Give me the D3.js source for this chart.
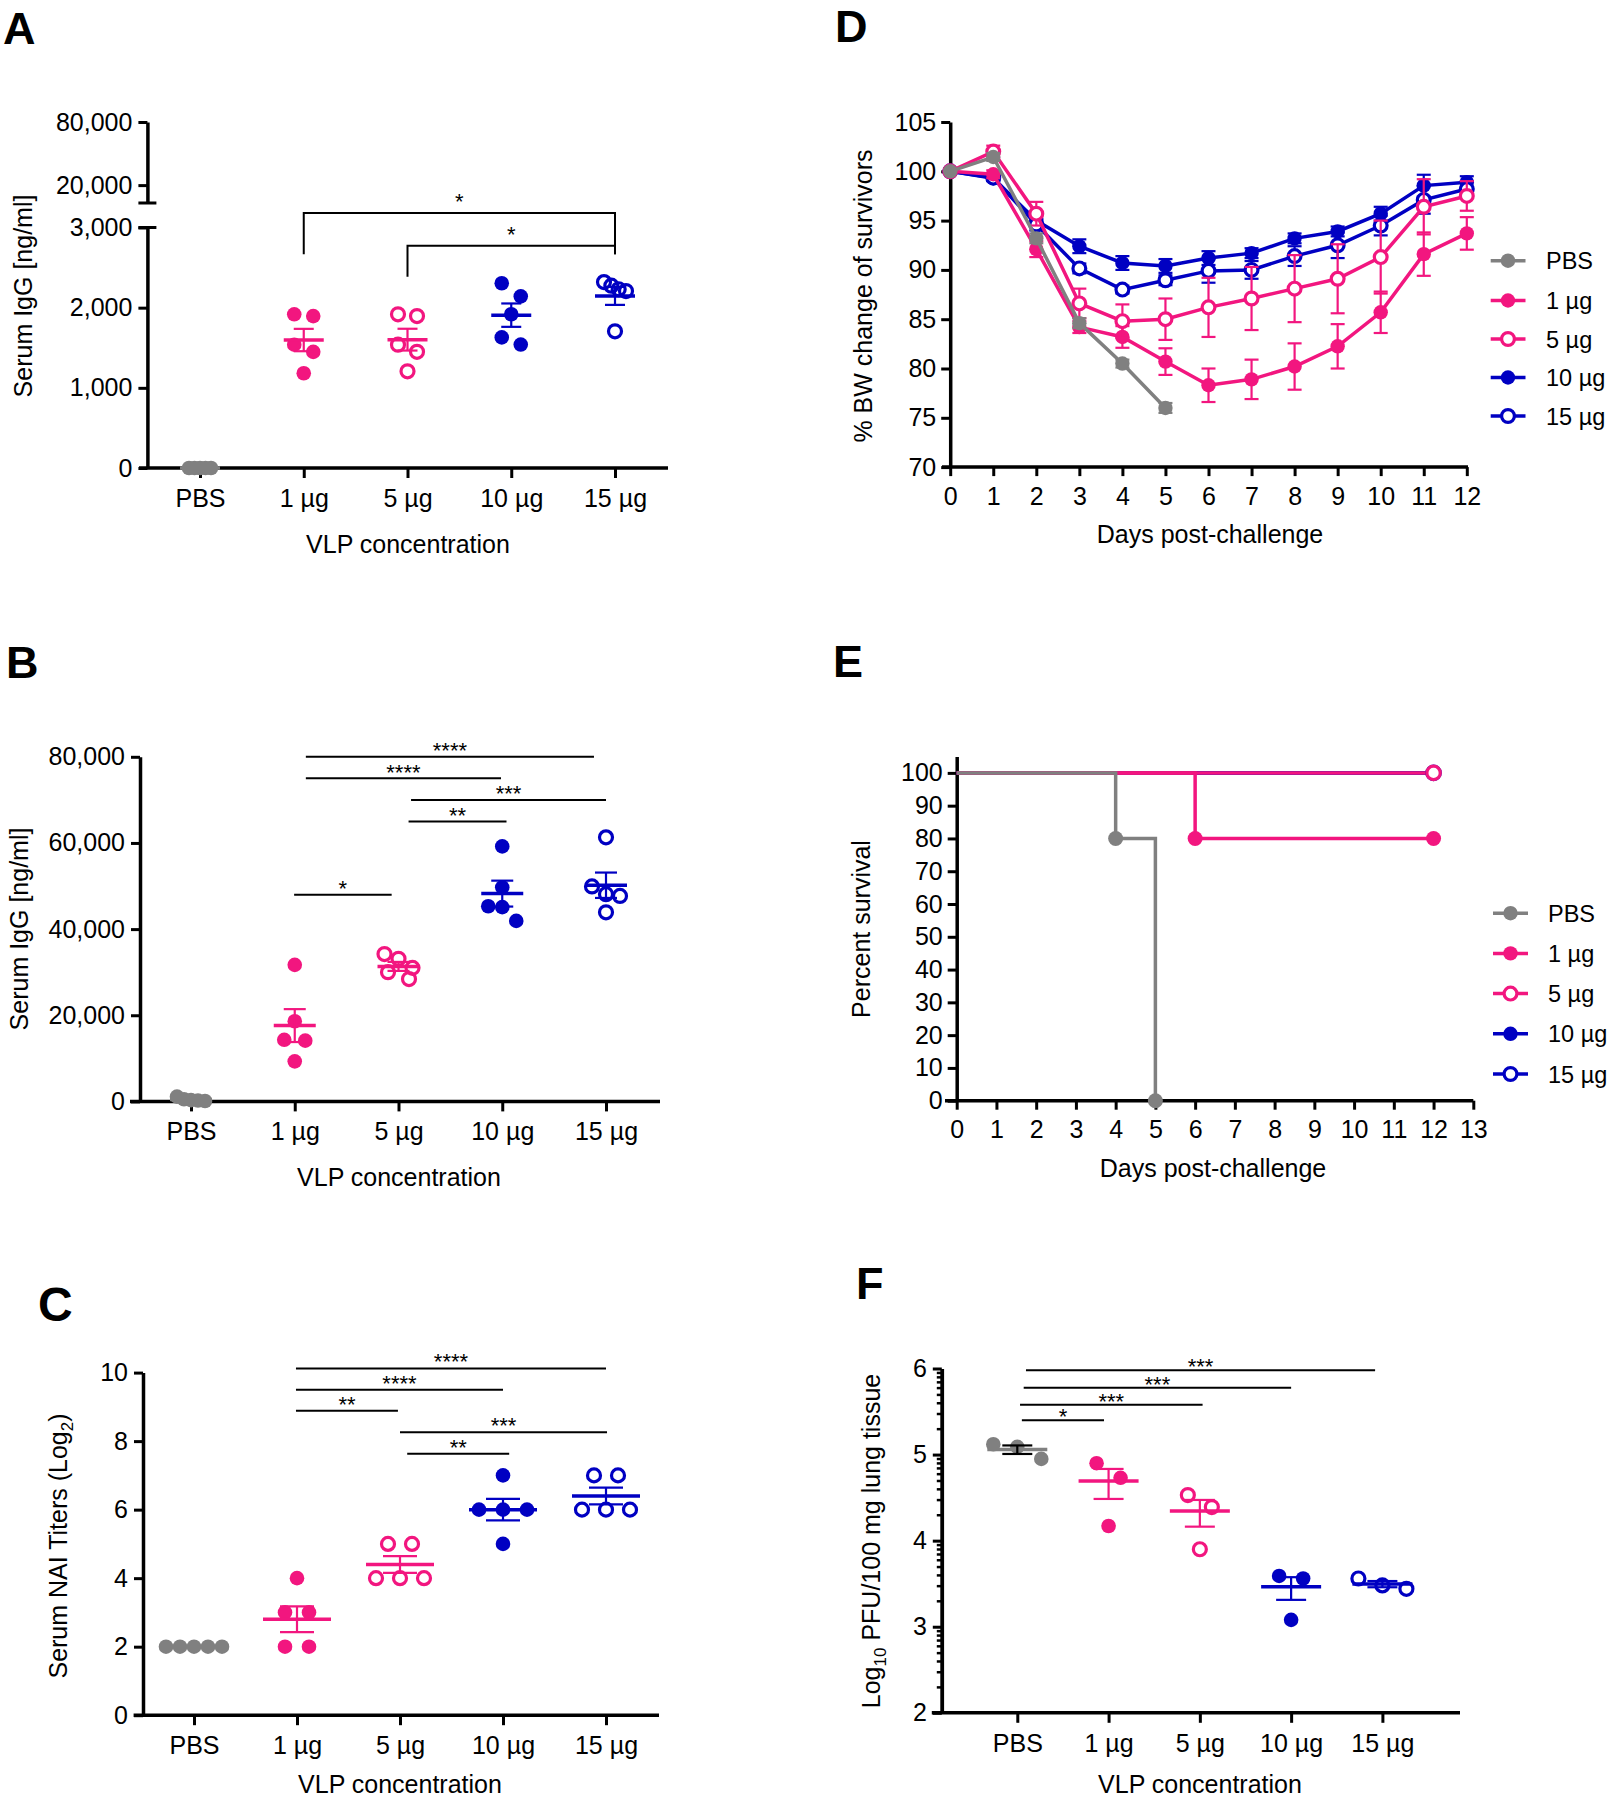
<!DOCTYPE html>
<html><head><meta charset="utf-8">
<script src="https://cdn.jsdelivr.net/npm/d3@7"></script>
<style>body{margin:0;background:#fff}svg{display:block}</style>
</head><body>
<script>
// ---------------- DATA ----------------
const groups = ["PBS", "1 µg", "5 µg", "10 µg", "15 µg"];

// Panel A: Serum IgG [ng/ml] (per group, individual mice)
const igG_A = [
  [0, 0, 0, 0, 0],
  [1917, 1895, 1538, 1449, 1182],
  [1917, 1895, 1538, 1449, 1206],
  [2305, 2141, 1918, 1629, 1540],
  [2319, 2274, 2230, 2207, 1705]
];
const ticksA_low = [0, 1000, 2000, 3000];
const ticksA_high = [20000, 80000];
const sigA = [
  {from: 1, to: 4, level: 3182, legFrom: 2666, legTo: 2666, label: "*", labelLevel: 3388},
  {from: 2, to: 4, level: 2773, legFrom: 2385, legTo: 2666, label: "*", labelLevel: 2974}
];

// Panel B: Serum IgG [ng/ml]
const igG_B = [
  [1100, 500, 300, 200, 100],
  [31700, 18600, 14100, 14300, 9300],
  [34200, 33100, 31000, 30000, 28400],
  [59200, 49700, 45300, 45100, 41900],
  [61300, 49900, 48100, 47700, 43900]
];
const ticksB = [0, 20000, 40000, 60000, 80000];
const sigB = [
  {from: 1.107, to: 3.884, level: 80000, label: "****"},
  {from: 1.107, to: 2.988, level: 75000, label: "****"},
  {from: 2.121, to: 4.0, level: 70000, label: "***"},
  {from: 2.097, to: 3.041, level: 65000, label: "**"},
  {from: 0.994, to: 1.934, level: 48000, label: "*"}
];

// Panel C: Serum NAI titers (log2)
const nai_C = [
  [2, 2, 2, 2, 2],
  [4, 3, 3, 2, 2],
  [5, 5, 4, 4, 4],
  [7, 6, 6, 6, 5],
  [7, 7, 6, 6, 6]
];
const ticksC = [0, 2, 4, 6, 8, 10];
const sigC = [
  {from: 0.99, to: 4.0, level: 10.12, label: "****"},
  {from: 0.99, to: 3.0, level: 9.5, label: "****"},
  {from: 0.99, to: 1.98, level: 8.885, label: "**"},
  {from: 2.0, to: 4.01, level: 8.26, label: "***"},
  {from: 2.07, to: 3.06, level: 7.63, label: "**"}
];

// Panel D: % body weight of survivors (mean, SEM)
const bwDays = [0, 1, 2, 3, 4, 5, 6, 7, 8, 9, 10, 11, 12];
const ticksD = [70, 75, 80, 85, 90, 95, 100, 105];
const bwMean_PBS = [100, 101.45, 93.2, 84.6, 80.5, 76.0];
const bwSem_PBS  = [0, 0.4, 0.5, 0.5, 0.4, 0.5];
const bwMean_1 = [100, 99.7, 92.1, 84.2, 83.2, 80.7, 78.3, 78.9, 80.2, 82.25, 85.7, 91.6, 93.7];
const bwSem_1  = [0, 0.4, 0.8, 0.6, 1.1, 1.35, 1.7, 2.0, 2.35, 2.25, 2.1, 2.2, 1.65];
const bwMean_5 = [100, 102.0, 95.7, 86.6, 84.8, 85.0, 86.2, 87.1, 88.1, 89.1, 91.3, 96.4, 97.5];
const bwSem_5  = [0, 0.6, 1.2, 1.5, 1.7, 2.1, 3.0, 3.2, 3.4, 3.5, 3.7, 2.8, 1.5];
const bwMean_10 = [100, 99.3, 95.0, 92.4, 90.7, 90.4, 91.2, 91.7, 93.2, 93.9, 95.7, 98.55, 98.9];
const bwSem_10  = [0, 0.3, 0.6, 0.7, 0.7, 0.7, 0.7, 0.5, 0.5, 0.5, 0.7, 1.1, 0.6];
const bwMean_15 = [100, 99.35, 94.6, 90.15, 88.0, 88.95, 89.9, 90.0, 91.4, 92.5, 94.5, 97.1, 98.2];
const bwSem_15  = [0, 0.3, 0.6, 0.5, 0.4, 0.5, 1.2, 0.9, 1.0, 1.3, 1.0, 1.4, 0.8];

// Panel E: Percent survival (Kaplan-Meier steps)
const survDays_PBS = [0, 4, 5];   const survPct_PBS = [100, 80, 0];
const survDays_1   = [0, 6, 12];  const survPct_1   = [100, 80, 80];
const survDays_5   = [0, 12];     const survPct_5   = [100, 100];
const survDays_10  = [0, 12];     const survPct_10  = [100, 100];
const survDays_15  = [0, 12];     const survPct_15  = [100, 100];
const ticksE_y = [0, 10, 20, 30, 40, 50, 60, 70, 80, 90, 100];
const ticksE_x = [0, 1, 2, 3, 4, 5, 6, 7, 8, 9, 10, 11, 12, 13];

// Panel F: log10 PFU / 100 mg lung tissue
const pfu_F = [
  [5.12, 5.09, 4.95],
  [4.90, 4.73, 4.17],
  [4.53, 4.39, 3.90],
  [3.59, 3.56, 3.08],
  [3.56, 3.48, 3.44]
];
const ticksF = [2, 3, 4, 5, 6];
const sigF = [
  {from: 0.095, to: 3.92, level: 5.979, label: "***"},
  {from: 0.07, to: 3.0, level: 5.775, label: "***"},
  {from: 0.03, to: 2.03, level: 5.58, label: "***"},
  {from: 0.05, to: 0.95, level: 5.40, label: "*"}
];

// ---------------- STYLE ----------------
const FONT = "'Liberation Sans', Arial, Helvetica, sans-serif";
const GREY = "#808080", PINK = "#f2167f", BLUE = "#0000c2";
const gColor = [GREY, PINK, PINK, BLUE, BLUE];
const gOpen = [false, false, true, false, true];

const svg = d3.select("body").append("svg").attr("width", 1609).attr("height", 1800);
svg.append("rect").attr("width", 1609).attr("height", 1800).attr("fill", "#fff");

function styleAxis(sel) {
  sel.select(".domain").attr("stroke", "#000").attr("stroke-width", 3.5);
  sel.selectAll(".tick line").attr("stroke", "#000").attr("stroke-width", 3);
  sel.selectAll(".tick text").attr("fill", "#000").attr("font-size", 25).attr("font-family", FONT);
}
function hline(g, x1, x2, y, w) {
  g.append("line").attr("x1", x1).attr("x2", x2).attr("y1", y).attr("y2", y)
    .attr("stroke", "#000").attr("stroke-width", w || 3.5);
}
function text(g, x, y, s, opt) {
  opt = opt || {};
  return g.append("text").attr("x", x).attr("y", y).text(s)
    .attr("font-family", FONT).attr("font-size", opt.fs || 25)
    .attr("font-weight", opt.bold ? "bold" : "normal")
    .attr("text-anchor", opt.anchor || "middle").attr("fill", "#000");
}
function yTitle(g, x, y, parts) {
  const t = g.append("text").attr("transform", `translate(${x},${y}) rotate(-90)`)
    .attr("text-anchor", "middle").attr("font-family", FONT).attr("font-size", 25).attr("fill", "#000");
  parts.forEach(p => {
    const ts = t.append("tspan").text(p.t);
    if (p.sub) ts.attr("font-size", 17).attr("dy", 6);
    if (p.after) ts.attr("dy", -6);
  });
}
function marker(g, cx, cy, gi, r, whiteFill) {
  const open = gOpen[gi];
  g.append("circle").attr("cx", cx).attr("cy", cy).attr("r", open ? r - 0.8 : r)
    .attr("fill", open ? (whiteFill ? "#fff" : "none") : gColor[gi])
    .attr("stroke", gColor[gi]).attr("stroke-width", open ? 3.2 : 0);
}
// GraphPad-like horizontal spreading of overlapping points
function dodge(vals, y, spacing, maxHalf, thr) {
  const idx = vals.map((v, i) => i).sort((a, b) => vals[b] - vals[a]);
  const offs = new Array(vals.length).fill(0);
  let row = [];
  const flush = () => {
    const n = row.length; let s = spacing;
    if (n > 1 && (n - 1) * s / 2 > maxHalf) s = 2 * maxHalf / (n - 1);
    row.forEach((k, j) => offs[k] = (j - (n - 1) / 2) * s);
    row = [];
  };
  idx.forEach(k => {
    if (row.length && Math.abs(y(vals[k]) - y(vals[row[0]])) >= thr) flush();
    row.push(k);
  });
  flush();
  return offs;
}
function scatter(g, data, x, y, o) {
  data.forEach((vals, gi) => {
    const cx = x(groups[gi]);
    const offs = dodge(vals, y, o.spacing, o.maxHalf, 15);
    vals.forEach((v, k) => marker(g, cx + offs[k], y(v), gi, 7.3, false));
    let m, lo, hi;
    if (o.logMean) {
      const lin = vals.map(v => Math.pow(10, v));
      const mm = d3.mean(lin), se = d3.deviation(lin) / Math.sqrt(lin.length);
      m = Math.log10(mm); hi = Math.log10(mm + se); lo = Math.log10(mm - se);
    } else {
      m = d3.mean(vals);
      const se = (d3.deviation(vals) || 0) / Math.sqrt(vals.length);
      hi = m + se; lo = m - se;
    }
    const col = gColor[gi];
    g.append("line").attr("x1", cx - o.meanHalf).attr("x2", cx + o.meanHalf)
      .attr("y1", y(m)).attr("y2", y(m)).attr("stroke", col).attr("stroke-width", 3.5);
    if (hi - lo > 1e-9) {
      const sc = (o.semColor && o.semColor[gi]) || col;
      g.append("line").attr("x1", cx).attr("x2", cx).attr("y1", y(lo)).attr("y2", y(hi))
        .attr("stroke", sc).attr("stroke-width", 2.2);
      [lo, hi].forEach(v => g.append("line").attr("x1", cx - o.capHalf).attr("x2", cx + o.capHalf)
        .attr("y1", y(v)).attr("y2", y(v)).attr("stroke", sc).attr("stroke-width", 2.2));
    }
  });
}
function sigLines(g, xi, y, list, offset) {
  list.forEach(s => {
    const yy = y(s.level);
    g.append("line").attr("x1", xi(s.from)).attr("x2", xi(s.to)).attr("y1", yy).attr("y2", yy)
      .attr("stroke", "#000").attr("stroke-width", 2);
    text(g, (xi(s.from) + xi(s.to)) / 2, yy - offset + 12.5, s.label, {fs: 22});
  });
}
function catAxis(g, x, yAxis, x1, x2) {
  hline(g, x1, x2, yAxis);
  g.append("g").attr("transform", `translate(0,${yAxis})`)
    .call(d3.axisBottom(x).tickSize(10).tickSizeOuter(0).tickPadding(11))
    .call(styleAxis).call(a => a.select(".domain").remove());
}
function legend(g, ly, lx0, lx1, mx, tx) {
  groups.forEach((name, gi) => {
    g.append("line").attr("x1", lx0).attr("x2", lx1).attr("y1", ly[gi]).attr("y2", ly[gi])
      .attr("stroke", gColor[gi]).attr("stroke-width", 3.5);
    marker(g, mx, ly[gi], gi, 7.2, true);
    text(g, tx, ly[gi] + 8.5, name, {anchor: "start", fs: 23.5});
  });
}

// ---------------- PANEL A ----------------
{
  const g = svg.append("g");
  const x = d3.scalePoint().domain(groups).range([200, 615]);
  const xi = d3.scaleLinear().domain([0, 4]).range([200, 615]);
  const yLow = d3.scaleLinear().domain([0, 3000]).range([468, 227.5]);
  const yHigh = d3.scaleLinear().domain([3000, 80000]).range([203, 122]);
  const ax = 147.4;
  g.append("g").attr("transform", `translate(${ax},0)`)
    .call(d3.axisLeft(yLow).tickValues(ticksA_low).tickSize(9).tickSizeOuter(0).tickPadding(6).tickFormat(d3.format(",")))
    .call(styleAxis);
  g.append("g").attr("transform", `translate(${ax},0)`)
    .call(d3.axisLeft(yHigh).tickValues(ticksA_high).tickSize(9).tickSizeOuter(0).tickPadding(6).tickFormat(d3.format(",")))
    .call(styleAxis);
  [yHigh(3000), yLow(3000)].forEach(v => hline(g, ax - 9, ax + 9, v, 3));
  catAxis(g, x, 468, 139, 668);
  scatter(g, igG_A, x, yLow, {spacing: 19, maxHalf: 11, meanHalf: 20, capHalf: 10});
  sigA.forEach(s => {
    g.append("path").attr("d", `M${xi(s.from)},${yLow(s.legFrom)}V${yLow(s.level)}H${xi(s.to)}V${yLow(s.legTo)}`)
      .attr("fill", "none").attr("stroke", "#000").attr("stroke-width", 2);
    text(g, (xi(s.from) + xi(s.to)) / 2, yLow(s.labelLevel) + 12.5, s.label, {fs: 22});
  });
  yTitle(g, 32, 296, [{t: "Serum  IgG [ng/ml]"}]);
  text(g, 408, 553, "VLP concentration");
  text(g, 3, 44, "A", {fs: 45, bold: true, anchor: "start"});
}

// ---------------- PANEL B ----------------
{
  const g = svg.append("g");
  const x = d3.scalePoint().domain(groups).range([191, 606]);
  const xi = d3.scaleLinear().domain([0, 4]).range([191, 606]);
  const y = d3.scaleLinear().domain([0, 80000]).range([1101.4, 756.8]);
  g.append("g").attr("transform", "translate(140,0)")
    .call(d3.axisLeft(y).tickValues(ticksB).tickSize(9).tickSizeOuter(0).tickPadding(6).tickFormat(d3.format(",")))
    .call(styleAxis);
  catAxis(g, x, 1101.4, 130, 660);
  scatter(g, igG_B, x, y, {spacing: 21, maxHalf: 14, meanHalf: 21, capHalf: 11});
  sigLines(g, xi, y, sigB, 11);
  yTitle(g, 28, 929, [{t: "Serum IgG [ng/ml]"}]);
  text(g, 399, 1186, "VLP concentration");
  text(g, 6, 678, "B", {fs: 45, bold: true, anchor: "start"});
}

// ---------------- PANEL C ----------------
{
  const g = svg.append("g");
  const x = d3.scalePoint().domain(groups).range([194, 606]);
  const xi = d3.scaleLinear().domain([0, 4]).range([194, 606]);
  const y = d3.scaleLinear().domain([0, 10]).range([1715.2, 1372.6]);
  g.append("g").attr("transform", "translate(143,0)")
    .call(d3.axisLeft(y).tickValues(ticksC).tickSize(9).tickSizeOuter(0).tickPadding(6))
    .call(styleAxis);
  catAxis(g, x, 1715.2, 133.6, 659);
  scatter(g, nai_C, x, y, {spacing: 24, maxHalf: 28, meanHalf: 34, capHalf: 17});
  sigLines(g, xi, y, sigC, 11.5);
  yTitle(g, 67, 1546, [{t: "Serum NAI Titers (Log"}, {t: "2", sub: true}, {t: ")", after: true}]);
  text(g, 400, 1793, "VLP concentration");
  text(g, 38, 1321, "C", {fs: 48, bold: true, anchor: "start"});
}

// ---------------- PANEL D ----------------
{
  const g = svg.append("g");
  const x = d3.scaleLinear().domain([0, 12]).range([950.2, 1466.8]);
  const y = d3.scaleLinear().domain([70, 105]).range([467.1, 122]);
  g.append("g").attr("transform", "translate(950.2,0)")
    .call(d3.axisLeft(y).tickValues(ticksD).tickSize(9).tickSizeOuter(0).tickPadding(5))
    .call(styleAxis);
  hline(g, 942, 1468, 467.1);
  g.append("g").attr("transform", "translate(0,467.1)")
    .call(d3.axisBottom(x).tickValues(bwDays).tickSize(9).tickSizeOuter(0).tickPadding(11))
    .call(styleAxis).call(a => a.select(".domain").remove());
  const series = [
    {gi: 3, m: bwMean_10, s: bwSem_10},
    {gi: 4, m: bwMean_15, s: bwSem_15},
    {gi: 1, m: bwMean_1, s: bwSem_1},
    {gi: 2, m: bwMean_5, s: bwSem_5},
    {gi: 0, m: bwMean_PBS, s: bwSem_PBS}
  ];
  series.forEach(sr => {
    const col = gColor[sr.gi];
    const pts = sr.m.map((v, i) => ({d: bwDays[i], v, s: sr.s[i]}));
    pts.forEach(p => {
      if (p.s <= 0) return;
      const cx = x(p.d);
      g.append("line").attr("x1", cx).attr("x2", cx).attr("y1", y(p.v - p.s)).attr("y2", y(p.v + p.s))
        .attr("stroke", col).attr("stroke-width", 2.2);
      [p.v - p.s, p.v + p.s].forEach(v => g.append("line").attr("x1", cx - 7).attr("x2", cx + 7)
        .attr("y1", y(v)).attr("y2", y(v)).attr("stroke", col).attr("stroke-width", 2.2));
    });
    g.append("path").attr("d", d3.line().x(p => x(p.d)).y(p => y(p.v))(pts))
      .attr("fill", "none").attr("stroke", col).attr("stroke-width", 3.5);
    pts.forEach(p => marker(g, x(p.d), y(p.v), sr.gi, 7.2, true));
  });
  legend(g, [260.7, 300.5, 339, 377.5, 416], 1490.7, 1525.5, 1508, 1546);
  yTitle(g, 872, 296, [{t: "% BW change of survivors"}]);
  text(g, 1210, 543, "Days post-challenge");
  text(g, 835, 42, "D", {fs: 45, bold: true, anchor: "start"});
}

// ---------------- PANEL E ----------------
{
  const g = svg.append("g");
  const x = d3.scaleLinear().domain([0, 13]).range([956.7, 1473.3]);
  const y = d3.scaleLinear().domain([0, 105]).range([1100.7, 756.5]);
  g.append("g").attr("transform", "translate(956.7,0)")
    .call(d3.axisLeft(y).tickValues(ticksE_y).tickSize(9).tickSizeOuter(0).tickPadding(5))
    .call(styleAxis);
  hline(g, 945, 1473.3, 1100.7);
  g.append("g").attr("transform", "translate(0,1100.7)")
    .call(d3.axisBottom(x).tickValues(ticksE_x).tickSize(9).tickSizeOuter(0).tickPadding(11))
    .call(styleAxis).call(a => a.select(".domain").remove());
  const surv = [
    {gi: 4, d: survDays_15, p: survPct_15},
    {gi: 3, d: survDays_10, p: survPct_10},
    {gi: 2, d: survDays_5, p: survPct_5},
    {gi: 1, d: survDays_1, p: survPct_1},
    {gi: 0, d: survDays_PBS, p: survPct_PBS}
  ];
  surv.forEach(sr => {
    const pts = sr.d.map((d, i) => [d, sr.p[i]]);
    g.append("path").attr("d", d3.line().curve(d3.curveStepAfter).x(p => x(p[0])).y(p => y(p[1]))(pts))
      .attr("fill", "none").attr("stroke", gColor[sr.gi]).attr("stroke-width", 3.5);
  });
  surv.forEach(sr => {
    sr.d.forEach((d, i) => { if (i > 0) marker(g, x(d), y(sr.p[i]), sr.gi, 7.5, true); });
  });
  legend(g, [913.2, 953.4, 993.6, 1033.8, 1074], 1493, 1528, 1510.5, 1548);
  yTitle(g, 870, 929, [{t: "Percent survival"}]);
  text(g, 1213, 1177, "Days post-challenge");
  text(g, 833, 677, "E", {fs: 45, bold: true, anchor: "start"});
}

// ---------------- PANEL F ----------------
{
  const g = svg.append("g");
  const x = d3.scalePoint().domain(groups).range([1017.3, 1382.4]);
  const xi = d3.scaleLinear().domain([0, 4]).range([1017.3, 1382.4]);
  const y = d3.scaleLinear().domain([2, 6]).range([1712.8, 1368.5]);
  const minor = [];
  [2, 3, 4, 5].forEach(e => [2, 3, 4, 5, 6, 7, 8, 9].forEach(k => minor.push(e + Math.log10(k))));
  g.append("g").attr("transform", "translate(941.8,0)")
    .call(d3.axisLeft(y).tickValues(minor).tickSize(5).tickSizeOuter(0).tickFormat(""))
    .call(styleAxis).call(a => a.selectAll(".tick line").attr("stroke-width", 2.5));
  g.append("g").attr("transform", "translate(941.8,0)")
    .call(d3.axisLeft(y).tickValues(ticksF).tickSize(9).tickSizeOuter(0).tickPadding(6).tickFormat(d3.format("d")))
    .call(styleAxis);
  catAxis(g, x, 1712.8, 931.8, 1460);
  scatter(g, pfu_F, x, y, {spacing: 24, maxHalf: 24, meanHalf: 30, capHalf: 15, logMean: true,
    semColor: ["#000", null, null, null, null]});
  sigLines(g, xi, y, sigF, 8.5);
  yTitle(g, 880, 1541, [{t: "Log"}, {t: "10", sub: true}, {t: " PFU/100 mg lung tissue", after: true}]);
  text(g, 1200, 1793, "VLP concentration");
  text(g, 856, 1299, "F", {fs: 45, bold: true, anchor: "start"});
}
</script>
</body></html>
